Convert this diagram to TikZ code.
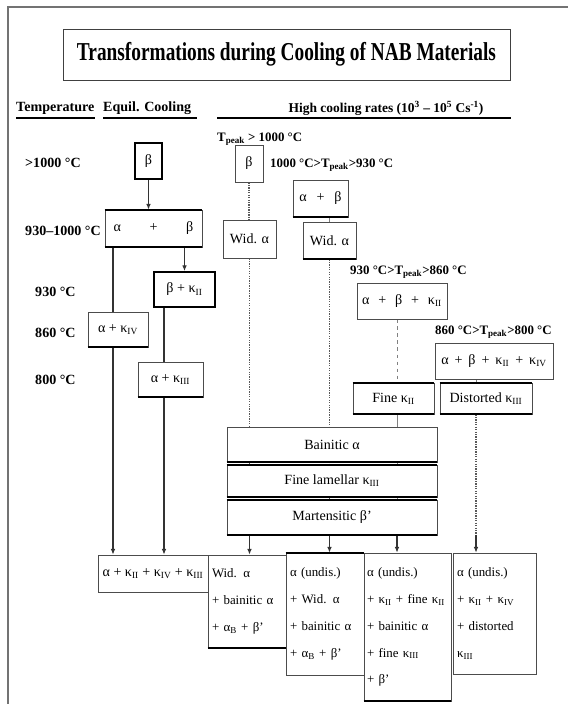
\documentclass[tikz,border=0pt]{standalone}
\usepackage{fontspec}
\setmainfont{Liberation Serif}
\newfontfamily\titlefont{Liberation Serif}[FakeStretch=0.75]
\usetikzlibrary{arrows.meta,backgrounds}

\tikzset{
  phase/.style 2 args={draw=black!70, line width=0.6pt, fill=white, inner sep=0pt,
    minimum width=#1*0.03cm, minimum height=#2*0.03cm, font=\fontsize{12}{14}\selectfont},
  heavy/.style={line width=1.5pt, draw=black},
  result/.style={align=left, text width=#1*0.03cm, font=\fontsize{11}{23}\selectfont},
  botrule/.style={line width=1.6pt, black},
  templbl/.style={anchor=west, inner sep=0pt, font=\bfseries\fontsize{12}{14}\selectfont},
  peaklbl/.style={anchor=west, inner sep=0pt, font=\bfseries\fontsize{11}{13}\selectfont},
  headlbl/.style={inner sep=0pt, font=\bfseries\fontsize{12}{14}\selectfont},
  flow/.style={->, line width=0.9pt, black!80},
  dotline/.style={line width=1.1pt, black!65, densely dotted},
  thinline/.style={line width=0.5pt, black!50},
}

\begin{document}
\begin{tikzpicture}[x=0.03cm, y=-0.03cm, >={Latex[length=5pt,width=4pt]}]
    \useasboundingbox (0,0) rectangle (568,704);
    % Frame and title
    \draw[black!55, line width=1.5pt] (8,704) -- (8,7) -- (568,7);
    \node[draw=black!75, line width=0.8pt, inner sep=0pt, minimum width=447*0.03cm, minimum height=51*0.03cm,
      font=\titlefont\bfseries\fontsize{22}{24}\selectfont] (title) at (286.5,54.5)
      {Transformations during Cooling of NAB Materials};

    % Column heads
    \node[headlbl, anchor=west] (hTemp) at (16,108) {Temperature};
    \node[headlbl, anchor=west] (hEqu) at (103,108) {Equil. Cooling};
    \node[headlbl, font=\bfseries\fontsize{11.5}{14}\selectfont] (hHigh) at (386,108)
      {High cooling rates (10\textsuperscript{3} – 10\textsuperscript{5} Cs\textsuperscript{-1})};
    \draw[line width=1pt] (16,118) -- (95,118);
    \draw[line width=1pt] (103,118) -- (197,118);
    \draw[line width=1pt] (217,118) -- (511,118);

    % Temperatures
    \node[templbl] (t1) at (25,163) {>1000 °C};
    \node[templbl] (t2) at (25,231) {930–1000 °C};
    \node[templbl] (t3) at (35,292) {930 °C};
    \node[templbl] (t4) at (35,333) {860 °C};
    \node[templbl] (t5) at (35,380) {800 °C};

    % Equilibrium cooling
    \node[phase={27}{36}, heavy] (eqB) at (148.5,161) {β};
    \node[phase={97}{37}] (eqAB) at (153.5,228.5) {\makebox[68pt]{α\hfill+\hfill β}};
    \node[phase={61}{35}, heavy] (eqBK) at (184.5,289.5) {β + κ\textsubscript{II}};
    \node[phase={60}{35}] (eqAK4) at (118,329.5) {α + κ\textsubscript{IV}};
    \node[phase={65}{35}] (eqAK3) at (170.5,379.5) {α + κ\textsubscript{III}};
    \node[phase={110}{37}] (eqEnd) at (153,573.5)
      {α + κ\textsubscript{II} + κ\textsubscript{IV} + κ\textsubscript{III}};

    % High cooling rates
    \node[peaklbl] (pk1) at (217,139) {T\textsubscript{peak} > 1000 °C};
    \node[peaklbl] (pk2) at (270,165) {1000 °C>T\textsubscript{peak}>930 °C};
    \node[peaklbl] (pk3) at (350,272) {930 °C>T\textsubscript{peak}>860 °C};
    \node[peaklbl] (pk4) at (435,332) {860 °C>T\textsubscript{peak}>800 °C};

    \node[phase={28}{37}] (hrB) at (249,163.5) {β};
    \node[phase={55}{37}] (hrAB) at (320.5,198.5) {\makebox[36pt]{α\hfill+\hfill β}};
    \node[phase={53}{38}] (hrW1) at (249.5,239) {Wid. α};
    \node[phase={53}{37}] (hrW2) at (329.5,240.5) {Wid. α};
    \node[phase={90}{36}] (hrABK) at (402,301)
      {\makebox[68pt]{α\hfill+\hfill β\hfill+\hfill κ\textsubscript{II}}};
    \node[phase={118}{36}] (hrABKK) at (494,361)
      {\makebox[90pt]{α\hfill+\hfill β\hfill+\hfill κ\textsubscript{II}\hfill+\hfill κ\textsubscript{IV}}};
    \node[phase={81}{31}] (hrFine) at (393.5,398.5) {Fine κ\textsubscript{II}};
    \node[phase={92}{31}] (hrDist) at (486,398.5) {Distorted κ\textsubscript{III}};

    \node[phase={210}{35}] (bBain) at (332,444.5) {Bainitic α};
    \node[phase={210}{32}] (bLam) at (332,481) {Fine lamellar κ\textsubscript{III}};
    \node[phase={210}{35}] (bMart) at (332,517.5) {Martensitic β'};

    % Resulting microstructures
    \node[phase={78}{93}, result=70] (outA) at (247,601.5)
      {Wid. α\\+ bainitic α\\+ α\textsubscript{B} + β'};
    \node[phase={78}{122}, result=70] (outB) at (325,614)
      {α (undis.)\\+ Wid. α\\+ bainitic α\\+ α\textsubscript{B} + β'};
    \node[phase={87}{148}, result=81] (outC) at (407.5,627)
      {α (undis.)\\+ κ\textsubscript{II} + fine κ\textsubscript{II}\\+ bainitic α\\+ fine κ\textsubscript{III}\\+ β'};
    \node[phase={83}{121}, result=75] (outD) at (494.5,613.5)
      {α (undis.)\\+ κ\textsubscript{II} + κ\textsubscript{IV}\\+ distorted\\κ\textsubscript{III}};

    % Heavy rules
    \foreach \n in {eqAB, eqAK4, eqAK3, hrAB, hrW2, hrFine, hrDist, bBain, bLam, bMart, outA, outC}
      \draw[botrule] (\n.south west) -- (\n.south east);
    \foreach \n in {eqAB, hrFine, hrDist, bLam, bMart, outB}
      \draw[botrule] (\n.north west) -- (\n.north east);

    % Connectors
    \coordinate (eqL) at (113,0);
    \coordinate (eqR) at (164,0);
    \coordinate (vA) at (397,0);
    \coordinate (vB) at (476,0);
    \begin{scope}[on background layer]
      \draw[flow] (eqB.south) -- (eqB.south |- eqAB.north);
      \draw[flow] (eqBK |- eqAB.south) -- (eqBK.north);
      \draw[flow] (eqL |- eqAB.south) -- (eqL |- eqEnd.north);
      \draw[flow, -] (eqR |- eqBK.south) -- (eqR |- eqAK3.north);
      \draw[flow] (eqR |- eqAK3.south) -- (eqR |- eqEnd.north);

      \draw[dotline] (hrB.south) -- (hrB.south |- hrW1.north);
      \draw[dotline] (hrW1.south) -- (hrW1.south |- bMart.south);
      \draw[flow] (hrW1.south |- bMart.south) -- (hrW1.south |- outA.north);
      \draw[thinline] (hrW2.north |- hrAB.south) -- (hrW2.north);
      \draw[dotline] (hrW2.south) -- (hrW2.south |- bMart.south);
      \draw[flow] (hrW2.south |- bMart.south) -- (hrW2.south |- outB.north);
      \draw[thinline, dashed] (vA |- hrABK.south) -- (vA |- hrFine.north);
      \draw[thinline] (vA |- hrFine.south) -- (vA |- bMart.south);
      \draw[flow] (vA |- bMart.south) -- (vA |- outC.north);
      \draw[thinline] (vB |- hrABKK.south) -- (vB |- hrDist.north);
      \draw[dotline] (vB |- hrDist.south) -- (vB |- bMart.south);
      \draw[flow] (vB |- bMart.south) -- (vB |- outD.north);
    \end{scope}
\end{tikzpicture}
\end{document}
